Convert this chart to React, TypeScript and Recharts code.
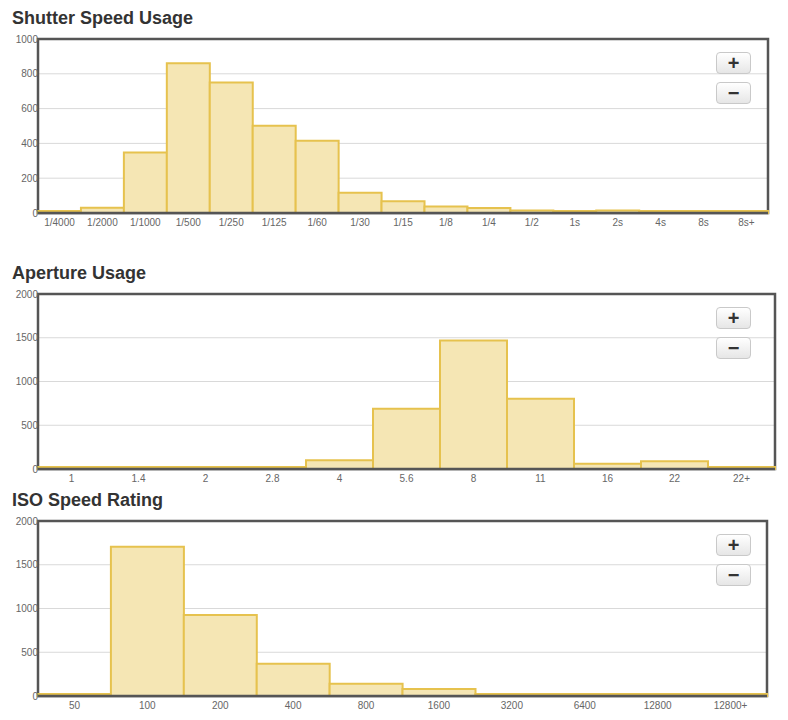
import { BarChart, Bar, XAxis, YAxis, CartesianGrid, ReferenceArea } from "recharts"

const shutterLabels = ["1/4000", "1/2000", "1/1000", "1/500", "1/250", "1/125", "1/60", "1/30", "1/15", "1/8", "1/4", "1/2", "1s", "2s", "4s", "8s", "8s+"]
const shutterCounts = [5, 30, 348, 860, 750, 501, 415, 117, 67, 38, 29, 15, 10, 15, 8, 4, 4]

const apertureLabels = ["1", "1.4", "2", "2.8", "4", "5.6", "8", "11", "16", "22", "22+"]
const apertureCounts = [10, 10, 8, 10, 99, 690, 1470, 804, 61, 88, 12]

const isoLabels = ["50", "100", "200", "400", "800", "1600", "3200", "6400", "12800", "12800+"]
const isoCounts = [10, 1706, 927, 370, 141, 80, 8, 6, 6, 6]

const shutterTicks = [0, 200, 400, 600, 800, 1000]
const countTicks = [0, 500, 1000, 1500, 2000]

const FONT = '"Liberation Sans", Arial, sans-serif'

interface UsageChartProps {
  title: string
  labels: string[]
  counts: number[]
  ticks: number[]
  plotTop: number
  plotHeight: number
  plotRight: number
}

function ZoomButton({ top, label }: { top: number; label: string }) {
  return (
    <div
      style={{
        position: "absolute",
        left: 716,
        top,
        width: 33,
        height: 20,
        border: "1px solid #c9c9c9",
        borderRadius: 4,
        background: "linear-gradient(#ffffff, #e6e6e6)",
        color: "#333",
        fontWeight: "bold",
        fontSize: 20,
        lineHeight: "20px",
        textAlign: "center",
      }}
    >
      {label}
    </div>
  )
}

function UsageChart({ title, labels, counts, ticks, plotTop, plotHeight, plotRight }: UsageChartProps) {
  const data = labels.map((label, i) => ({ label, count: counts[i] }))
  const yMax = ticks[ticks.length - 1]
  const svgTop = plotTop - 10

  return (
    <>
      <div
        style={{
          position: "absolute",
          left: 12,
          top: plotTop - 30,
          fontSize: 18,
          lineHeight: "18px",
          fontWeight: "bold",
          color: "#333",
        }}
      >
        {title}
      </div>
      <div style={{ position: "absolute", left: 0, top: svgTop }}>
        <BarChart
          width={788}
          height={plotHeight + 36}
          data={data}
          barCategoryGap={0}
          margin={{ top: 10, right: 788 - plotRight, left: 0, bottom: 6 }}
        >
          <CartesianGrid vertical={false} stroke="#d9d9d9" />
          <XAxis
            dataKey="label"
            interval={0}
            height={20}
            tickLine={false}
            tickSize={0}
            tickMargin={6}
            axisLine={{ stroke: "#555", strokeWidth: 2.5 }}
            tick={{ fill: "#666", fontSize: 10 }}
          />
          <YAxis
            width={38}
            domain={[0, yMax]}
            ticks={ticks}
            axisLine={false}
            tickLine={false}
            tickSize={0}
            tickMargin={0}
            tick={{ fill: "#666", fontSize: 10 }}
          />
          <Bar
            dataKey="count"
            fill="#f5e6b4"
            stroke="#e6c24e"
            strokeWidth={2}
            minPointSize={2}
            isAnimationActive={false}
          />
          <ReferenceArea
            x1={labels[0]}
            x2={labels[labels.length - 1]}
            y1={0}
            y2={yMax}
            fill="none"
            stroke="#555"
            strokeWidth={2.5}
            ifOverflow="visible"
          />
        </BarChart>
      </div>
      <ZoomButton top={plotTop + 13} label="+" />
      <ZoomButton top={plotTop + 43} label="−" />
    </>
  )
}

export default function App() {
  return (
    <div
      style={{
        position: "absolute",
        left: 0,
        top: 0,
        width: 788,
        height: 720,
        background: "#fff",
        fontFamily: FONT,
      }}
    >
      <UsageChart
        title="Shutter Speed Usage"
        labels={shutterLabels}
        counts={shutterCounts}
        ticks={shutterTicks}
        plotTop={39}
        plotHeight={174}
        plotRight={768}
      />
      <UsageChart
        title="Aperture Usage"
        labels={apertureLabels}
        counts={apertureCounts}
        ticks={countTicks}
        plotTop={294}
        plotHeight={175}
        plotRight={775}
      />
      <UsageChart
        title="ISO Speed Rating"
        labels={isoLabels}
        counts={isoCounts}
        ticks={countTicks}
        plotTop={521}
        plotHeight={175}
        plotRight={767}
      />
    </div>
  )
}
